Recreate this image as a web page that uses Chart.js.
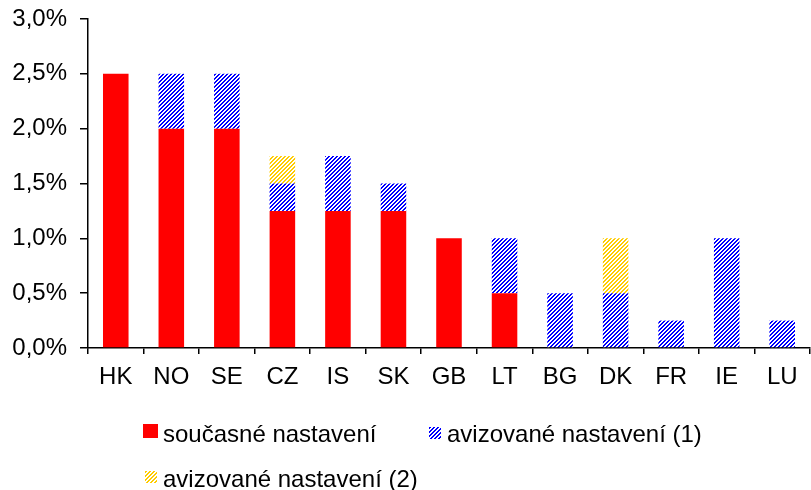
<!DOCTYPE html>
<html>
<head>
<meta charset="utf-8">
<script src="https://cdn.jsdelivr.net/npm/chart.js@4"></script>
<style>
html,body{margin:0;padding:0;background:#fff;}
#wrap{position:relative;width:811px;height:490px;}
</style>
</head>
<body>
<div id="wrap"><canvas id="c" width="811" height="490"></canvas></div>
<script>
const categories = ['HK','NO','SE','CZ','IS','SK','GB','LT','BG','DK','FR','IE','LU'];
const currentSetting = [2.5, 2.0, 2.0, 1.25, 1.25, 1.25, 1.0, 0.5, 0, 0, 0, 0, 0];
const announced1 = [0, 0.5, 0.5, 0.25, 0.5, 0.25, 0, 0.5, 0.5, 0.5, 0.25, 1.0, 0.25];
const announced2 = [0, 0, 0, 0.25, 0, 0, 0, 0, 0, 0.5, 0, 0, 0];
const seriesNames = ['současné nastavení', 'avizované nastavení (1)', 'avizované nastavení (2)'];
const yTicks = [0, 0.5, 1.0, 1.5, 2.0, 2.5, 3.0];

function hatch(color) {
  const c = document.createElement('canvas');
  c.width = 4; c.height = 4;
  const g = c.getContext('2d');
  g.fillStyle = '#ffffff';
  g.fillRect(0, 0, 4, 4);
  g.fillStyle = color;
  for (let y = 0; y < 4; y++) {
    for (let x = 0; x < 4; x++) {
      if ((x + y) % 4 < 2) g.fillRect(x, y, 1, 1);
    }
  }
  return g.createPattern(c, 'repeat');
}

const ctx = document.getElementById('c').getContext('2d');
const bluePat = hatch('#0000ff');
const yellowPat = hatch('#ffcc00');
const FONT = "'Liberation Sans', Arial, sans-serif";

const legendPlugin = {
  id: 'customLegend',
  afterDraw(chart) {
    const g = chart.ctx;
    g.save();
    g.font = '24px ' + FONT;
    g.fillStyle = '#000';
    g.textBaseline = 'alphabetic';
    const items = [
      {fill: '#ff0000', box: [143, 424, 15, 14], tx: 163, ty: 442},
      {fill: bluePat, box: [429, 427, 12, 12], tx: 447, ty: 442},
      {fill: yellowPat, box: [145, 471, 12, 12], tx: 163, ty: 487}
    ];
    items.forEach((it, i) => {
      g.fillStyle = it.fill;
      g.fillRect(...it.box);
      g.fillStyle = '#000';
      g.fillText(seriesNames[i], it.tx, it.ty);
    });
    g.restore();
  }
};

new Chart(ctx, {
  type: 'bar',
  data: {
    labels: categories,
    datasets: [
      {label: seriesNames[0], data: currentSetting, backgroundColor: '#ff0000', borderWidth: 0},
      {label: seriesNames[1], data: announced1, backgroundColor: bluePat, borderWidth: 0},
      {label: seriesNames[2], data: announced2, backgroundColor: yellowPat, borderWidth: 0}
    ]
  },
  options: {
    responsive: false,
    animation: false,
    datasets: {bar: {barPercentage: 0.46, categoryPercentage: 1.0}},
    layout: {padding: {top: 19, right: 1, left: 0, bottom: 0}},
    plugins: {legend: {display: false}, tooltip: {enabled: false}},
    scales: {
      x: {
        stacked: true,
        grid: {display: true, drawOnChartArea: false, drawTicks: true, tickLength: 6, color: '#000', lineWidth: 1.5, offset: true},
        border: {display: true, color: '#000', width: 1.5},
        ticks: {color: '#000', font: {family: FONT, size: 24}, padding: 9, maxRotation: 0},
        afterFit(s) { s.height = 142; s.paddingLeft = 0; s.paddingRight = 0; }
      },
      y: {
        stacked: true,
        min: 0, max: 3,
        afterBuildTicks(s) { s.ticks = yTicks.map(v => ({value: v})); },
        grid: {display: true, drawOnChartArea: false, drawTicks: true, tickLength: 8, color: '#000', lineWidth: 1.5},
        border: {display: true, color: '#000', width: 1.5},
        ticks: {color: '#000', font: {family: FONT, size: 24}, padding: 13,
          callback: v => v.toFixed(1).replace('.', ',') + '%'},
        afterFit(s) { s.width = 88; s.paddingTop = 0; s.paddingBottom = 0; }
      }
    }
  },
  plugins: [legendPlugin]
});
</script>
</body>
</html>
